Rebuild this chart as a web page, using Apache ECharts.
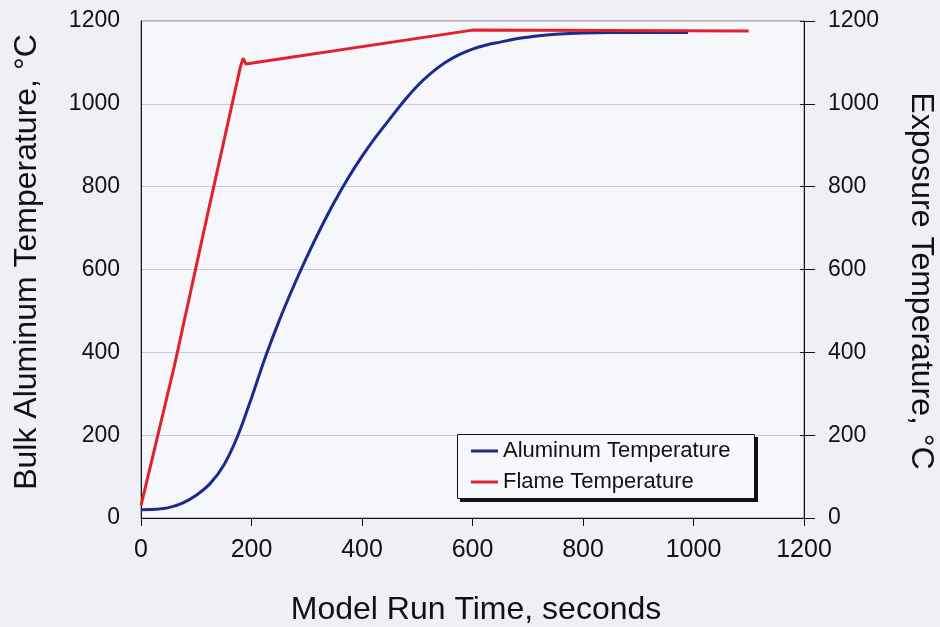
<!DOCTYPE html>
<html>
<head>
<meta charset="utf-8">
<script src="https://cdn.jsdelivr.net/npm/echarts@6/dist/echarts.min.js"></script>
<style>
html,body{margin:0;padding:0;background:#eff0f5;}
#chart{width:940px;height:627px;}
</style>
</head>
<body>
<div id="chart"></div>
<script>
// Data
var xTicks = [0, 200, 400, 600, 800, 1000, 1200];
var yTicks = [0, 200, 400, 600, 800, 1000, 1200];
var aluminumTime = [0, 25, 50, 75, 100, 125, 150, 175, 200, 225, 250, 275, 300, 325, 350, 375, 400, 425, 450, 475, 500, 525, 550, 575, 600, 625, 650, 675, 700, 725, 750, 800, 850, 900, 950, 990];
var aluminumTemp = [20, 21, 25, 36, 55, 83, 128, 198, 290, 388, 476, 556, 630, 699, 763, 821, 873, 920, 963, 1005, 1043, 1074, 1099, 1118, 1132, 1142, 1149, 1156, 1161, 1165, 1168, 1171, 1172, 1172, 1172, 1172];
var flameTime = [0, 60, 120, 180, 185, 190, 600, 1100];
var flameTemp = [30, 365, 730, 1090, 1110, 1096, 1178, 1176];

function pairs(xs, ys) { return xs.map(function (x, i) { return [x, ys[i]]; }); }
function plain(v) { return String(v); }

var FONT = '"Liberation Sans", Arial, Helvetica, sans-serif';
var chart = echarts.init(document.getElementById('chart'));
var yMin = yTicks[0], yMax = yTicks[yTicks.length - 1], yInt = yTicks[1] - yTicks[0];
var xMin = xTicks[0], xMax = xTicks[xTicks.length - 1], xInt = xTicks[1] - xTicks[0];

chart.setOption({
  animation: false,
  backgroundColor: '#eff0f5',
  grid: {
    left: 141, right: 136, top: 21, bottom: 109,
    show: true, backgroundColor: '#f6f7fb', borderColor: '#7a7a7a', borderWidth: 1
  },
  legend: {
    left: 471, top: 440,
    orient: 'vertical',
    padding: 0,
    itemGap: 9,
    itemWidth: 27, itemHeight: 3,
    icon: 'rect',
    textStyle: { fontFamily: FONT, fontSize: 22, color: '#111', lineHeight: 22 },
    data: ['Aluminum Temperature', 'Flame Temperature']
  },
  xAxis: {
    type: 'value', min: xMin, max: xMax, interval: xInt,
    axisLine: { show: true, lineStyle: { color: '#111', width: 1 } },
    axisTick: { show: true, length: 8, lineStyle: { color: '#111' } },
    axisLabel: { fontFamily: FONT, fontSize: 25, color: '#111', margin: 20, formatter: plain },
    splitLine: { show: false }
  },
  yAxis: [
    {
      type: 'value', min: yMin, max: yMax, interval: yInt, position: 'left',
      axisLine: { show: true, lineStyle: { color: '#111', width: 1 } },
      axisTick: { show: false },
      axisLabel: { fontFamily: FONT, fontSize: 23, color: '#111', margin: 21, formatter: plain },
      splitLine: { show: true, lineStyle: { color: '#c6c8d3', width: 1 } }
    },
    {
      type: 'value', min: yMin, max: yMax, interval: yInt, position: 'right',
      axisLine: { show: true, lineStyle: { color: '#111', width: 1 } },
      axisTick: { show: true, length: 11, lineStyle: { color: '#111' } },
      axisLabel: { fontFamily: FONT, fontSize: 23, color: '#111', margin: 24, formatter: plain },
      splitLine: { show: false }
    },
    {
      type: 'value', min: yMin, max: yMax, interval: yInt, position: 'right',
      axisLine: { show: false },
      axisTick: { show: true, inside: true, length: 4, lineStyle: { color: '#111' } },
      axisLabel: { show: false },
      splitLine: { show: false }
    }
  ],
  series: [
    {
      name: 'Aluminum Temperature', type: 'line', yAxisIndex: 0,
      data: pairs(aluminumTime, aluminumTemp),
      smooth: 0.35, showSymbol: false, symbol: 'none',
      lineStyle: { color: '#1b2a8c', width: 3 },
      itemStyle: { color: '#1b2a8c' }
    },
    {
      name: 'Flame Temperature', type: 'line', yAxisIndex: 1,
      data: pairs(flameTime, flameTemp),
      showSymbol: false, symbol: 'none',
      lineStyle: { color: '#e1222c', width: 3 },
      itemStyle: { color: '#e1222c' }
    }
  ],
  graphic: [
    {
      type: 'rect', z: 3, silent: true,
      shape: { x: 460, y: 437, width: 298, height: 65 },
      style: { fill: '#111' }
    },
    {
      type: 'rect', z: 3, silent: true,
      shape: { x: 457.5, y: 434.5, width: 297, height: 64 },
      style: { fill: '#f7f8fb', stroke: '#111', lineWidth: 1 }
    },
    {
      type: 'text', x: 27, y: 262, rotation: Math.PI / 2,
      style: { text: 'Bulk Aluminum Temperature, °C', font: '32px ' + FONT, fill: '#111', textAlign: 'center', textVerticalAlign: 'middle' }
    },
    {
      type: 'text', x: 921, y: 281, rotation: -Math.PI / 2,
      style: { text: 'Exposure Temperature, °C', font: '32px ' + FONT, fill: '#111', textAlign: 'center', textVerticalAlign: 'middle' }
    },
    {
      type: 'text', x: 476, y: 610,
      style: { text: 'Model Run Time, seconds', font: '32px ' + FONT, fill: '#111', textAlign: 'center', textVerticalAlign: 'middle' }
    }
  ]
});
</script>
</body>
</html>
